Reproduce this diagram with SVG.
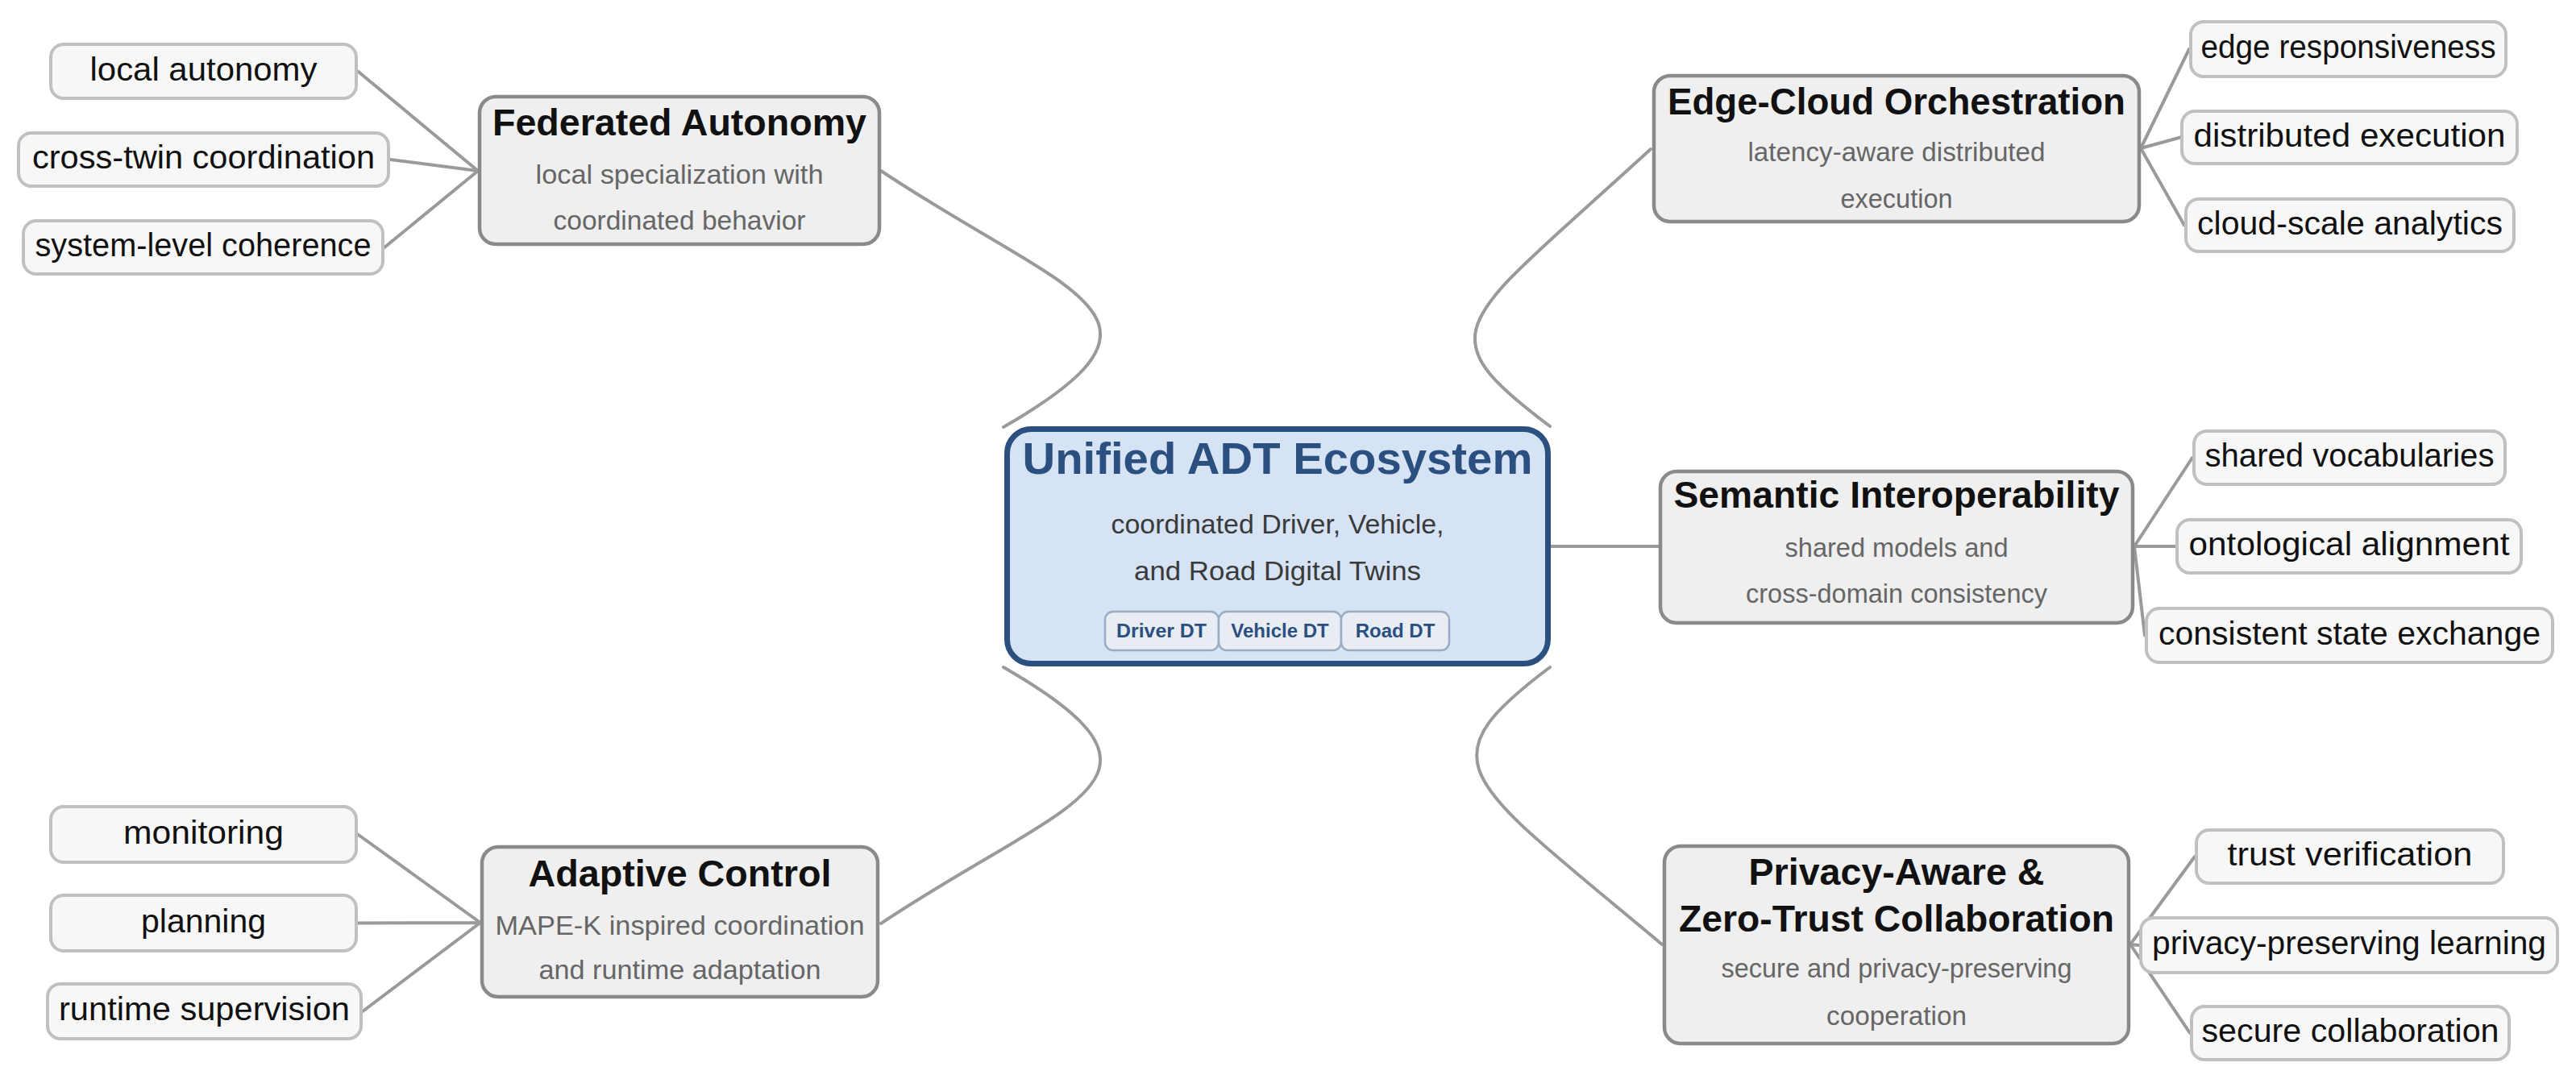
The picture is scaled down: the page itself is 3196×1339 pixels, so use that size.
<svg xmlns="http://www.w3.org/2000/svg" width="3196" height="1339" viewBox="0 0 3196 1339">
<style>
text{font-family:"Liberation Sans",Arial,sans-serif;text-anchor:middle}
.conn{fill:none;stroke:#9a9a9a;stroke-width:4;stroke-linecap:round}
.branch rect{fill:#efefef;stroke:#8a8a8a;stroke-width:4.5}
.leaf rect{fill:#f7f7f7;stroke:#c0c0c0;stroke-width:4}
.bt{font-size:46px;font-weight:bold;fill:#111}
.bs{font-size:33px;fill:#666}
.lt{font-size:40px;fill:#111}
.chip rect{fill:#e8edf4;stroke:#9cabc2;stroke-width:2.5}
.chip text{font-size:24px;font-weight:bold;fill:#2b4f80}
</style>
<rect width="3196" height="1339" fill="#fff"/>
<g id="connectors">
<path class="conn" d="M1093,212 C1326,367 1487,390 1245,530"/>
<path class="conn" d="M1093,1146 C1326,991 1487,968 1245,828"/>
<path class="conn" d="M2048,185 C1812,402 1763,409 1923,529"/>
<path class="conn" d="M2062,1172 C1817,966 1763,948 1923,828"/>
<path class="conn" d="M1924,678 L2058,678"/>
<path class="conn" d="M593,212 L444,88.5 M593,212 L484,198 M593,212 L477,307"/>
<path class="conn" d="M2656,184 L2716,61 M2656,184 L2705,170.5 M2656,184 L2710,279.5"/>
<path class="conn" d="M2648,678 L2720,568 M2648,678 L2699,678 M2648,678 L2661,788.5"/>
<path class="conn" d="M596,1145 L444,1035.5 M596,1145 L444,1145.5 M596,1145 L450,1255"/>
<path class="conn" d="M2643,1172 L2723,1063 M2643,1172 L2654,1173 M2643,1172 L2717,1282"/>
</g>
<g id="center">
<rect x="1249.5" y="532.5" width="671" height="291" rx="30" fill="#d5e3f5" stroke="#2b5080" stroke-width="7"/>
<text x="1585" y="588" font-size="56" font-weight="bold" fill="#2b5080" textLength="633" lengthAdjust="spacingAndGlyphs">Unified ADT Ecosystem</text>
<text x="1585" y="662" font-size="33" fill="#3a3a3a" textLength="413" lengthAdjust="spacingAndGlyphs">coordinated Driver, Vehicle,</text>
<text x="1585" y="720" font-size="33" fill="#3a3a3a" textLength="356" lengthAdjust="spacingAndGlyphs">and Road Digital Twins</text>
<g class="chip" id="chip-driver"><rect x="1371" y="759" width="141" height="48" rx="10"/><text x="1441" y="791" textLength="112" lengthAdjust="spacingAndGlyphs">Driver DT</text></g>
<g class="chip" id="chip-vehicle"><rect x="1512" y="759" width="152" height="48" rx="10"/><text x="1588" y="791">Vehicle DT</text></g>
<g class="chip" id="chip-road"><rect x="1664" y="759" width="134" height="48" rx="10"/><text x="1731" y="791">Road DT</text></g>
</g>
<g id="federated" class="branch">
<rect x="595" y="120" width="496" height="183" rx="20"/>
<text class="bt" x="843" y="168" textLength="464" lengthAdjust="spacingAndGlyphs">Federated Autonomy</text>
<text class="bs" x="843" y="228" textLength="357" lengthAdjust="spacingAndGlyphs">local specialization with</text>
<text class="bs" x="843" y="285" textLength="313" lengthAdjust="spacingAndGlyphs">coordinated behavior</text>
</g>
<g id="edgecloud" class="branch">
<rect x="2052" y="94" width="602" height="181" rx="20"/>
<text class="bt" x="2353" y="142" textLength="568" lengthAdjust="spacingAndGlyphs">Edge-Cloud Orchestration</text>
<text class="bs" x="2353" y="200" textLength="369" lengthAdjust="spacingAndGlyphs">latency-aware distributed</text>
<text class="bs" x="2353" y="258" textLength="139" lengthAdjust="spacingAndGlyphs">execution</text>
</g>
<g id="semantic" class="branch">
<rect x="2060" y="585" width="586" height="188" rx="20"/>
<text class="bt" x="2353" y="630" textLength="553" lengthAdjust="spacingAndGlyphs">Semantic Interoperability</text>
<text class="bs" x="2353" y="691" textLength="277" lengthAdjust="spacingAndGlyphs">shared models and</text>
<text class="bs" x="2353" y="748" textLength="374" lengthAdjust="spacingAndGlyphs">cross-domain consistency</text>
</g>
<g id="adaptive" class="branch">
<rect x="598" y="1051" width="491" height="186" rx="20"/>
<text class="bt" x="843.5" y="1100" textLength="376" lengthAdjust="spacingAndGlyphs">Adaptive Control</text>
<text class="bs" x="843.5" y="1160" textLength="458" lengthAdjust="spacingAndGlyphs">MAPE-K inspired coordination</text>
<text class="bs" x="843.5" y="1215" textLength="350" lengthAdjust="spacingAndGlyphs">and runtime adaptation</text>
</g>
<g id="privacy" class="branch">
<rect x="2065" y="1050" width="576" height="245" rx="20"/>
<text class="bt" x="2353" y="1098" textLength="367" lengthAdjust="spacingAndGlyphs">Privacy-Aware &amp;</text>
<text class="bt" x="2353" y="1156" textLength="540" lengthAdjust="spacingAndGlyphs">Zero-Trust Collaboration</text>
<text class="bs" x="2353" y="1213" textLength="435" lengthAdjust="spacingAndGlyphs">secure and privacy-preserving</text>
<text class="bs" x="2353" y="1272" textLength="174" lengthAdjust="spacingAndGlyphs">cooperation</text>
</g>
<g id="leaf-local-autonomy" class="leaf"><rect x="63" y="55" width="379" height="67" rx="16"/><text class="lt" x="252.5" y="99.5" textLength="282" lengthAdjust="spacingAndGlyphs">local autonomy</text></g>
<g id="leaf-cross-twin" class="leaf"><rect x="23" y="165" width="459" height="66" rx="16"/><text class="lt" x="252.5" y="209" textLength="425" lengthAdjust="spacingAndGlyphs">cross-twin coordination</text></g>
<g id="leaf-system-level" class="leaf"><rect x="29" y="274" width="446" height="66" rx="16"/><text class="lt" x="252" y="318" textLength="417" lengthAdjust="spacingAndGlyphs">system-level coherence</text></g>
<g id="leaf-edge" class="leaf"><rect x="2718" y="27" width="391" height="68" rx="16"/><text class="lt" x="2913.5" y="72" textLength="366" lengthAdjust="spacingAndGlyphs">edge responsiveness</text></g>
<g id="leaf-distributed" class="leaf"><rect x="2707" y="138" width="416" height="65" rx="16"/><text class="lt" x="2915" y="181.5" textLength="387" lengthAdjust="spacingAndGlyphs">distributed execution</text></g>
<g id="leaf-cloud" class="leaf"><rect x="2712" y="247" width="407" height="65" rx="16"/><text class="lt" x="2915.5" y="290.5" textLength="379" lengthAdjust="spacingAndGlyphs">cloud-scale analytics</text></g>
<g id="leaf-shared-vocab" class="leaf"><rect x="2722" y="535" width="386" height="66" rx="16"/><text class="lt" x="2915" y="579" textLength="359" lengthAdjust="spacingAndGlyphs">shared vocabularies</text></g>
<g id="leaf-ontological" class="leaf"><rect x="2701" y="645" width="427" height="66" rx="16"/><text class="lt" x="2914.5" y="689" textLength="398" lengthAdjust="spacingAndGlyphs">ontological alignment</text></g>
<g id="leaf-consistent" class="leaf"><rect x="2663" y="755" width="504" height="67" rx="16"/><text class="lt" x="2915" y="799.5" textLength="474" lengthAdjust="spacingAndGlyphs">consistent state exchange</text></g>
<g id="leaf-monitoring" class="leaf"><rect x="63" y="1001" width="379" height="69" rx="16"/><text class="lt" x="252.5" y="1046.5" textLength="199" lengthAdjust="spacingAndGlyphs">monitoring</text></g>
<g id="leaf-planning" class="leaf"><rect x="63" y="1111" width="379" height="69" rx="16"/><text class="lt" x="252.5" y="1156.5" textLength="155" lengthAdjust="spacingAndGlyphs">planning</text></g>
<g id="leaf-runtime" class="leaf"><rect x="59" y="1221" width="389" height="68" rx="16"/><text class="lt" x="253.5" y="1266" textLength="361" lengthAdjust="spacingAndGlyphs">runtime supervision</text></g>
<g id="leaf-trust" class="leaf"><rect x="2725" y="1030" width="381" height="66" rx="16"/><text class="lt" x="2915.5" y="1074" textLength="304" lengthAdjust="spacingAndGlyphs">trust verification</text></g>
<g id="leaf-privacy-learning" class="leaf"><rect x="2656" y="1139" width="517" height="68" rx="16"/><text class="lt" x="2914.5" y="1184" textLength="489" lengthAdjust="spacingAndGlyphs">privacy-preserving learning</text></g>
<g id="leaf-secure" class="leaf"><rect x="2719" y="1249" width="394" height="66" rx="16"/><text class="lt" x="2916" y="1293" textLength="369" lengthAdjust="spacingAndGlyphs">secure collaboration</text></g>
</svg>
